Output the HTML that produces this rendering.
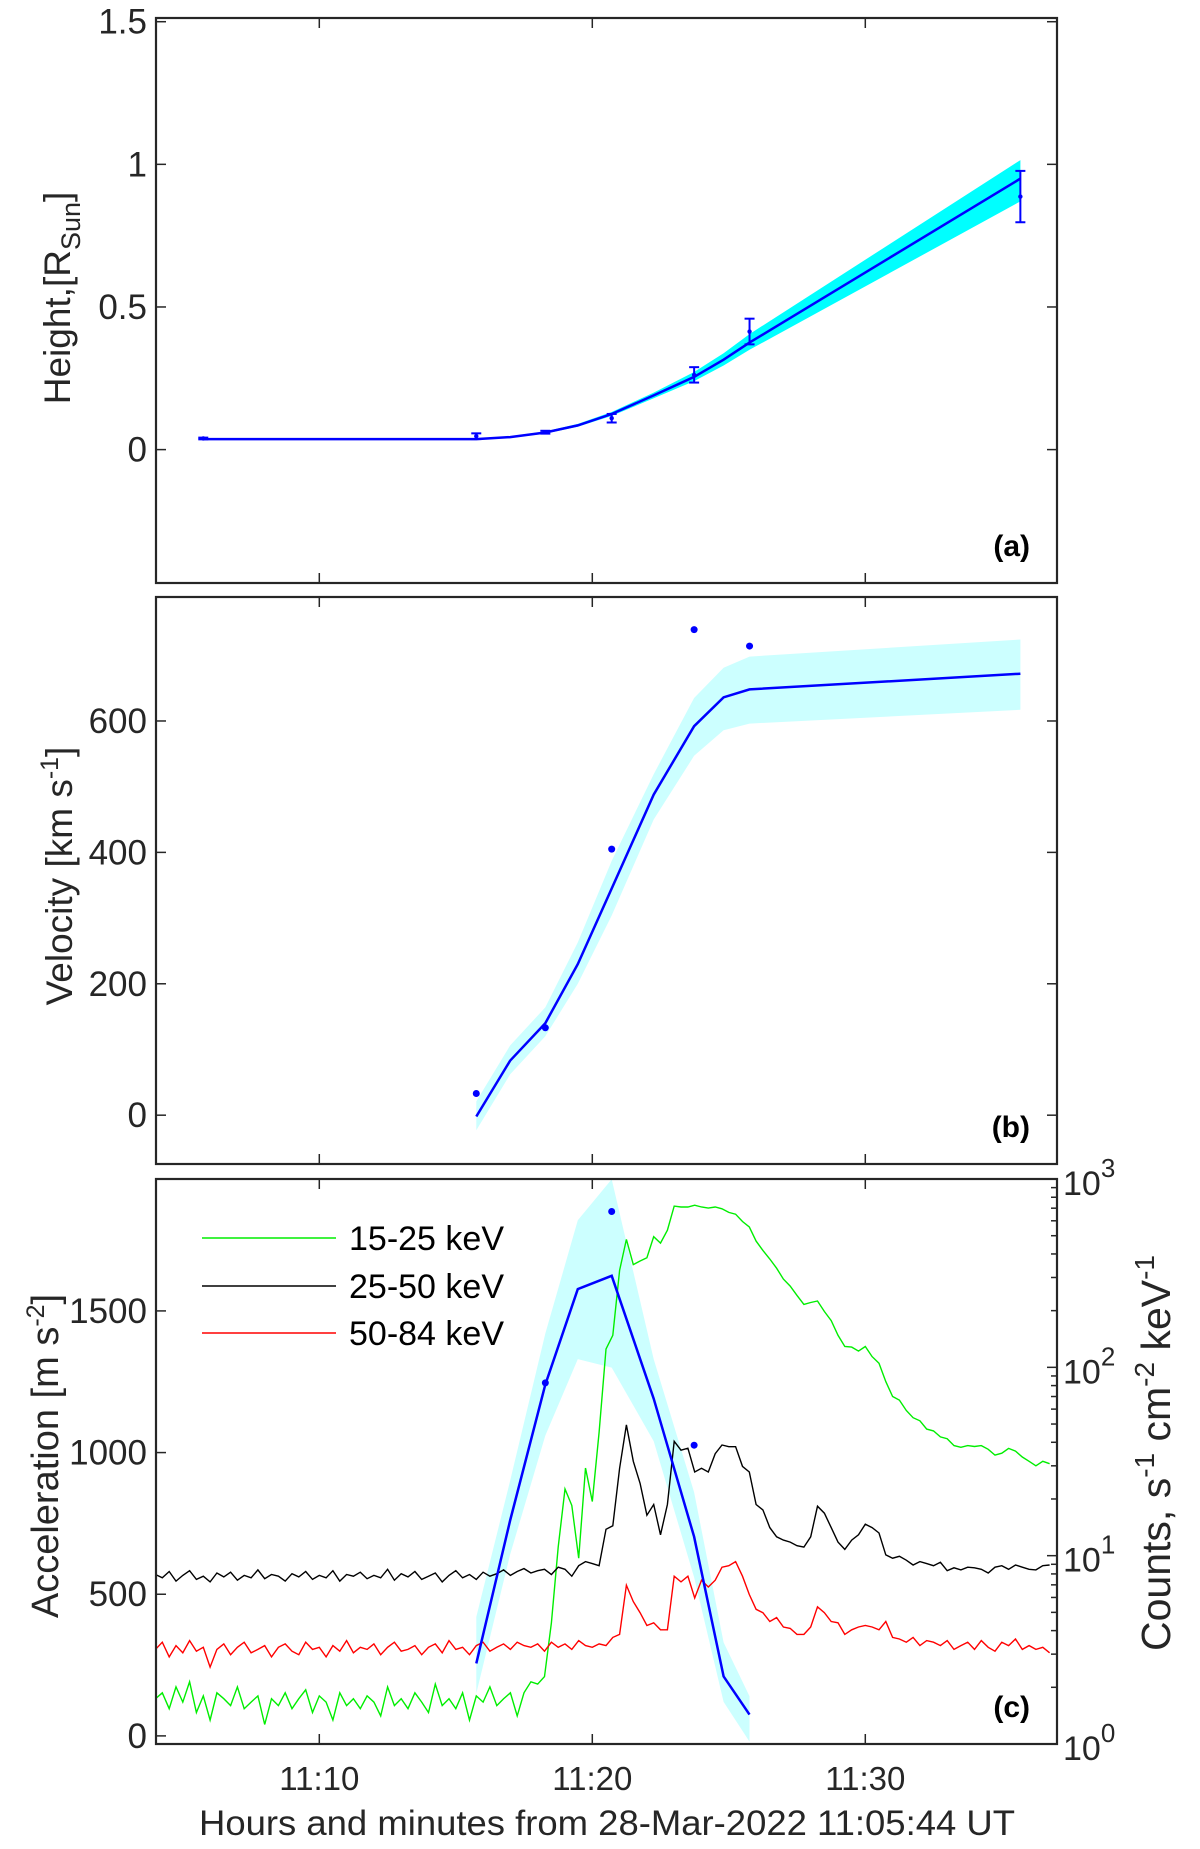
<!DOCTYPE html>
<html><head><meta charset="utf-8"><style>
body{margin:0;background:#fff}
svg{display:block;font-family:"Liberation Sans",Arial,sans-serif}
</style></head><body>
<svg id="fig" xmlns="http://www.w3.org/2000/svg" width="1200" height="1849" viewBox="0 0 1200 1849"></svg>
<script>
// ---------- data ----------
const fitTimes = [15.75,16.99,18.28,19.47,20.71,22.25,23.73,24.81,25.76,35.68];
const heightFitTimes = [5.75,15.75,16.99,18.28,19.47,20.71,22.25,23.73,24.81,25.76,35.68];
const heightFit = [0.037,0.037,0.044,0.06,0.085,0.125,0.19,0.255,0.315,0.375,0.95];
const heightUpper = [0.04,0.04,0.047,0.064,0.09,0.132,0.2,0.272,0.338,0.405,1.015];
const heightLower = [0.034,0.034,0.041,0.056,0.08,0.118,0.18,0.24,0.295,0.35,0.87];
const obsTimes = [5.75,15.75,18.28,20.71,23.73,25.76,35.68];
const heightObs = [0.039,0.047,0.061,0.11,0.262,0.414,0.887];
const heightErr = [0.003,0.01,0.005,0.015,0.027,0.045,0.09];

const velFit = [-2,83,140,230,345,488,592,636,648,672];
const velUpper = [21,106,164,263,387,519,635,681,698,724];
const velLower = [-23,62,120,200,304,450,547,586,596,617];
const velObsTimes = [15.75,18.28,20.71,23.73,25.76];
const velObs = [33,133,405,739,714];

const accTimes = [15.75,16.99,18.28,19.47,20.71,22.25,23.73,24.81,25.76];
const accFit = [256,760,1240,1577,1624,1190,703,210,75];
const accUpper = [420,900,1420,1820,1965,1330,860,330,140];
const accLower = [150,640,1060,1330,1300,1040,560,120,-20];
const accObsTimes = [18.28,20.71,23.73];
const accObs = [1246,1851,1026];

const hxrStart = 4.0, hxrStep = 0.25;
const counts15_25 = [1.74,1.87,1.54,2.01,1.67,2.14,1.47,1.80,1.34,1.87,
1.74,1.60,2.01,1.54,1.67,1.80,1.27,1.74,1.60,1.87,
1.54,1.74,1.94,1.47,1.80,1.67,1.34,1.87,1.60,1.74,
1.54,1.80,1.67,1.41,2.01,1.60,1.74,1.54,1.87,1.67,
1.47,2.08,1.60,1.74,1.54,1.87,1.34,1.80,1.67,2.01,
1.60,1.74,1.87,1.41,1.87,2.14,
2.08,2.28,4.40,11.1,22.6,18.5,9.7,29.2,19.4,45.2,
125,148,327,478,351,367,382,494,457,535,
718,710,710,726,710,701,710,695,665,650,
595,557,468,418,376,336,294,270,241,216,
221,225,198,177,148,129,128,122,129,114,
105,84,70,67,59,54,52,47,46,42.7,
41.8,38.4,37.6,38.4,38.0,38.4,36.7,34.2,35.0,37.1,
35.9,33.4,31.7,30.0,31.7,30.8];
const counts25_50 = [7.94,7.63,8.24,7.33,7.86,8.32,7.48,7.78,7.26,8.09,
7.71,8.17,7.41,7.86,7.63,8.40,7.55,7.94,7.78,7.33,
8.02,7.71,8.24,7.48,7.86,7.63,8.32,7.33,7.94,7.78,
8.17,7.55,7.86,7.63,8.47,7.41,8.02,7.71,8.24,7.48,
7.78,8.09,7.26,7.86,8.32,7.63,7.94,7.48,8.17,7.78,
8.02,8.40,7.86,8.24,8.54,8.09,
8.32,8.47,7.94,8.69,8.47,7.78,8.85,9.30,9.08,8.85,
13.8,14.4,29.1,49.5,31.7,24.2,16.4,18.7,12.9,18.7,
40.5,36.3,37.2,27.8,29.1,27.8,34.8,38.7,37.9,37.9,
29.8,27.8,18.7,17.5,14.1,12.6,12.1,11.8,11.3,11.1,
12.6,18.3,16.8,14.1,11.8,10.8,12.1,12.9,14.7,14.1,
13.2,10.1,9.69,9.92,9.46,8.92,9.30,9.08,8.85,9.22,
8.32,8.62,8.40,8.69,8.62,8.47,8.09,8.69,8.85,8.47,
8.92,8.69,8.47,8.40,8.85,8.92];
const counts50_84 = [3.18,3.47,2.90,3.33,3.05,3.54,3.11,3.26,2.56,3.18,
3.40,2.98,3.26,3.47,3.05,3.18,3.33,2.90,3.26,3.40,
3.11,2.98,3.47,3.18,3.26,2.90,3.33,3.11,3.54,3.05,
3.26,3.18,3.40,2.98,3.26,3.47,3.11,3.18,3.33,2.98,
3.26,3.40,3.05,3.54,3.18,3.26,2.98,3.33,3.47,3.11,
3.26,3.40,3.18,3.47,3.33,3.26,
3.40,3.11,3.47,3.26,3.40,3.18,3.54,3.33,3.26,3.40,
3.33,3.68,3.82,6.97,5.70,4.98,4.26,4.40,4.04,4.04,
7.78,7.26,7.78,5.96,7.41,6.82,7.41,8.69,8.85,9.30,
7.78,6.22,5.19,4.98,4.47,4.69,4.18,4.11,3.82,3.82,
4.18,5.35,4.98,4.47,4.40,3.82,4.04,4.18,4.26,4.18,
4.04,4.47,3.68,3.61,3.47,3.68,3.33,3.54,3.47,3.33,
3.54,3.18,3.33,3.47,3.18,3.54,3.26,3.11,3.47,3.33,
3.61,3.18,3.33,3.18,3.26,3.05];
const xTickMinutes = [10,20,30];
const xTickLabels = ["11:10","11:20","11:30"];
const hTicks = [0,0.5,1,1.5];
const hTickLabels = ["0","0.5","1","1.5"];
const vTicks = [0,200,400,600];
const aTicks = [0,500,1000,1500];
const legendLabels = ["15-25 keV","25-50 keV","50-84 keV"];

// ---------- layout ----------
const NS="http://www.w3.org/2000/svg";
const svg=document.getElementById('fig');
const L=156,R=1057;
const X=m=>319.3+(m-10)*27.3;
const P={a:{top:18,bot:583,min:-0.4676,max:1.513},b:{top:597,bot:1164,min:-74.3,max:788.7},c:{top:1179,bot:1744,min:-28.6,max:1965.6}};
const Y=(p,v)=>p.bot-(v-p.min)/(p.max-p.min)*(p.bot-p.top);
const YL=c=>1744-Math.log10(c)*188.33;
function el(tag,attrs,parent){const e=document.createElementNS(NS,tag);for(const k in attrs)e.setAttribute(k,attrs[k]);(parent||svg).appendChild(e);return e;}
const defs=el('defs',{});
for(const k of ['a','b','c']){const cp=el('clipPath',{id:'clip'+k},defs);el('rect',{x:L,y:P[k].top,width:R-L,height:P[k].bot-P[k].top},cp);}

function band(p,ts,up,lo,fill,name,clip){
  let d='M'+ts.map((t,i)=>X(t).toFixed(1)+','+Y(p,up[i]).toFixed(1)).join('L');
  for(let i=ts.length-1;i>=0;i--)d+='L'+X(ts[i]).toFixed(1)+','+Y(p,lo[i]).toFixed(1);
  const e=el('path',{d:d+'Z',fill:fill,'clip-path':'url(#'+clip+')'});
  
  
}
function line(p,ts,vs,name,clip,w){
  const e=el('polyline',{points:ts.map((t,i)=>X(t).toFixed(1)+','+Y(p,vs[i]).toFixed(1)).join(' '),fill:'none',stroke:'#0000ff','stroke-width':w||2.5,'clip-path':'url(#'+clip+')'});
  
  
}
function dots(p,ts,vs,name){
  ts.forEach((t,i)=>{const e=el('circle',{cx:X(t),cy:Y(p,vs[i]),r:3.5,fill:'#0000ff'});
    
    });
}
function frame(p,name){
  const f=el('rect',{x:L,y:p.top,width:R-L,height:p.bot-p.top,fill:'none',stroke:'#262626','stroke-width':2.2});
  
  
  xTickMinutes.forEach(m=>{el('line',{x1:X(m),x2:X(m),y1:p.top,y2:p.top+10,stroke:'#262626','stroke-width':1.5});el('line',{x1:X(m),x2:X(m),y1:p.bot,y2:p.bot-10,stroke:'#262626','stroke-width':1.5});});
}
function yTicks(p,ticks,labels,name,right){
  ticks.forEach((v,i)=>{const y=Y(p,v);
    el('line',{x1:L,x2:L+10,y1:y,y2:y,stroke:'#262626','stroke-width':1.5});
    if(right)el('line',{x1:R,x2:R-10,y1:y,y2:y,stroke:'#262626','stroke-width':1.5});
    const t=el('text',{x:147,y:y+12,'text-anchor':'end','font-size':35,fill:'#262626'});t.textContent=labels[i];
    
    });
}
function yTitle(x,yc,html,name,fs){
  const t=el('text',{transform:`translate(${x},${yc}) rotate(-90)`,'text-anchor':'middle','font-size':fs||36,fill:'#262626'});
  t.innerHTML=html;
  
  
}
function panelLabel(p,txt,name){
  const t=el('text',{x:1030,y:p.bot-27,'text-anchor':'end','font-size':30,'font-weight':'bold',fill:'#000'});t.textContent=txt;
  
  
}

// ---------- panel a ----------
band(P.a,heightFitTimes,heightUpper,heightLower,'#00ffff','height-fit-band','clipa');
line(P.a,heightFitTimes,heightFit,'height-fit-line','clipa');
obsTimes.forEach((t,i)=>{
  const x=X(t),y1=Y(P.a,heightObs[i]+heightErr[i]),y2=Y(P.a,heightObs[i]-heightErr[i]);
  const g=el('g',{stroke:'#0000ff','stroke-width':2});
  
  
  el('line',{x1:x,x2:x,y1:y1,y2:y2},g);el('line',{x1:x-5,x2:x+5,y1:y1,y2:y1},g);el('line',{x1:x-5,x2:x+5,y1:y2,y2:y2},g);
  el('circle',{cx:x,cy:Y(P.a,heightObs[i]),r:2.2,fill:'#0000ff',stroke:'none'},g);
});
frame(P.a,'height-panel-frame');
yTicks(P.a,hTicks,hTickLabels,'height-tick-label',true);
yTitle(70,298,'Height,[R<tspan dy="10" font-size="27">Sun</tspan><tspan dy="-10">]</tspan>','height-axis-title',37);
panelLabel(P.a,'(a)','panel-label-a');

// ---------- panel b ----------
band(P.b,fitTimes,velUpper,velLower,'#ccffff','velocity-fit-band','clipb');
line(P.b,fitTimes,velFit,'velocity-fit-line','clipb');
dots(P.b,velObsTimes,velObs,'velocity-point');
frame(P.b,'velocity-panel-frame');
yTicks(P.b,vTicks,vTicks.map(String),'velocity-tick-label',true);
yTitle(72,876,'Velocity [km s<tspan dy="-14" font-size="25">-1</tspan><tspan dy="14">]</tspan>','velocity-axis-title',37);
panelLabel(P.b,'(b)','panel-label-b');

// ---------- panel c ----------
band(P.c,accTimes,accUpper,accLower,'#ccffff','acceleration-fit-band','clipc');
function hxr(arr,color,name){
  const pts=arr.map((c,i)=>X(hxrStart+i*hxrStep).toFixed(1)+','+YL(c).toFixed(1)).join(' ');
  const e=el('polyline',{points:pts,fill:'none',stroke:color,'stroke-width':1.4,'clip-path':'url(#clipc)'});
  
  
}
hxr(counts15_25,'#00ee00','hxr-15-25-kev');
hxr(counts25_50,'#000000','hxr-25-50-kev');
hxr(counts50_84,'#ff0000','hxr-50-84-kev');
line(P.c,accTimes,accFit,'acceleration-fit-line','clipc');
dots(P.c,accObsTimes,accObs,'acceleration-point');
frame(P.c,'acceleration-panel-frame');
yTicks(P.c,aTicks,aTicks.map(String),'acceleration-tick-label',false);
yTitle(58,1456,'Acceleration [m s<tspan dy="-14" font-size="25">-2</tspan><tspan dy="14">]</tspan>','acceleration-axis-title',38);
// right log axis
for(let d=0;d<3;d++){for(let k=1;k<10;k++){const y=YL(k*Math.pow(10,d));const len=k===1?10:6;
  el('line',{x1:R,x2:R-len,y1:y,y2:y,stroke:'#262626','stroke-width':1.5});}}
[0,1,2,3].forEach(d=>{const y=YL(Math.pow(10,d));
  const t=el('text',{x:1063,y:y+16,'font-size':34,fill:'#262626'});
  t.innerHTML='10<tspan dy="-18" font-size="26">'+d+'</tspan>';
  
  });
{const t=el('text',{transform:'translate(1170,1453) rotate(-90)','text-anchor':'middle','font-size':41,fill:'#262626'});
 t.innerHTML='Counts, s<tspan dy="-16" font-size="28">-1</tspan><tspan dy="16"> cm</tspan><tspan dy="-16" font-size="28">-2</tspan><tspan dy="16"> keV</tspan><tspan dy="-16" font-size="28">-1</tspan>';
 
 }
panelLabel(P.c,'(c)','panel-label-c');
// legend
const legColors=['#00ee00','#000000','#ff0000'];const legY=[1238,1286,1333];
legendLabels.forEach((s,i)=>{
  const g=el('g',{});
  
  
  el('line',{x1:202,x2:336,y1:legY[i],y2:legY[i],stroke:legColors[i],'stroke-width':1.6},g);
  const t=el('text',{x:349,y:legY[i]+12,'font-size':34,fill:'#000'},g);t.textContent=s;
});
// x axis labels
xTickMinutes.forEach((m,i)=>{const t=el('text',{x:X(m),y:1790,'text-anchor':'middle','font-size':33,fill:'#262626'});t.textContent=xTickLabels[i];
  
  });
{const t=el('text',{x:607,y:1835,'text-anchor':'middle','font-size':35,fill:'#262626',textLength:816,lengthAdjust:'spacingAndGlyphs'});
 t.textContent='Hours and minutes from 28-Mar-2022 11:05:44 UT';
 
 }
</script>
</body></html>
